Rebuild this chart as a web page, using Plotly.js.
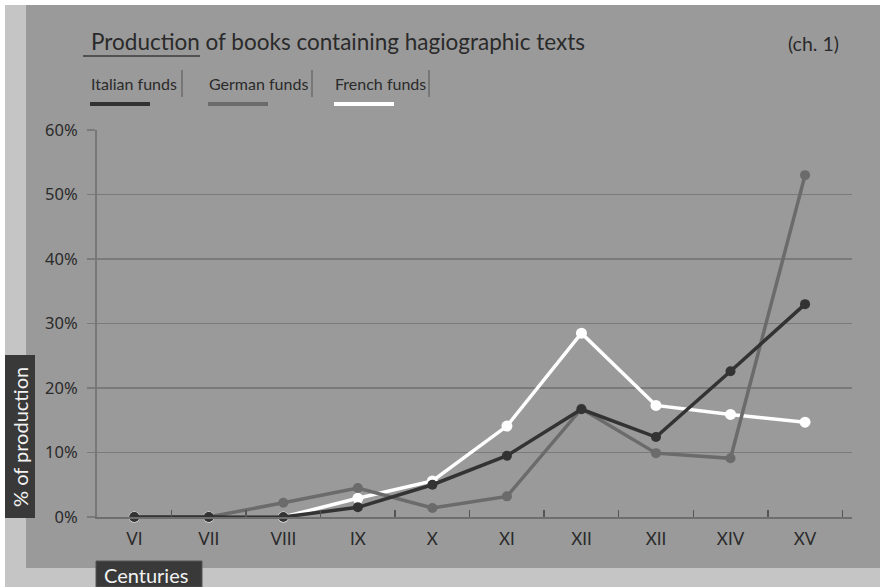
<!DOCTYPE html>
<html>
<head>
<meta charset="utf-8">
<script src="https://cdn.plot.ly/plotly-3.0.1.min.js"></script>
<style>
  html, body { margin: 0; padding: 0; background: #ffffff; }
  #chart { width: 880px; height: 587px; }
</style>
</head>
<body>
<div id="chart"></div>
<script>
// Centuries on the horizontal axis (the eighth label is printed "XII")
const centuries = ['VI', 'VII', 'VIII', 'IX', 'X', 'XI', 'XII', 'XII', 'XIV', 'XV'];
const centuryIndex = [0, 1, 2, 3, 4, 5, 6, 7, 8, 9];

// Share of production (%) of books with hagiographic texts, per fund
const italianFunds = [0, 0, 0, 1.5, 5.0, 9.5, 16.7, 12.4, 22.6, 33.0];
const germanFunds  = [0, 0, 2.2, 4.5, 1.4, 3.2, 16.8, 9.9, 9.1, 53.0];
const frenchFunds  = [0, 0, 0, 2.9, 5.6, 14.1, 28.5, 17.3, 15.9, 14.7];

const seriesNames = ['Italian funds', 'German funds', 'French funds'];
const seriesColors = ['#333333', '#6b6b6b', '#ffffff'];

const yTicks = [0, 10, 20, 30, 40, 50, 60];
const yTickLabels = ['0%', '10%', '20%', '30%', '40%', '50%', '60%'];
const boundaryTicks = [0.5, 1.5, 2.5, 3.5, 4.5, 5.5, 6.5, 7.5, 8.5, 9.5];

// Page geometry in pixels, used to place frame decorations in paper space
const W = 880, H = 587;
const M = { l: 97, r: 28, t: 130, b: 70 };
const PW = W - M.l - M.r, PH = H - M.t - M.b;
const fx = px => (px - M.l) / PW;
const fy = py => (H - M.b - py) / PH;

const FONT = 'Lato, "Noto Sans", sans-serif';
const NUM_FONT = '"Noto Sans", Lato, sans-serif';
const INK = '#2a2a2a';

function lineTrace(name, values, color, width, size) {
  return {
    type: 'scatter', mode: 'lines+markers', name: name,
    x: centuryIndex, y: values,
    line: { color: color, width: width },
    marker: { color: color, size: size },
    cliponaxis: false, showlegend: false,
    hovertemplate: '%{y}%<extra>' + name + '</extra>'
  };
}

const data = [
  lineTrace(seriesNames[2], frenchFunds, seriesColors[2], 3.5, 11),
  lineTrace(seriesNames[1], germanFunds, seriesColors[1], 3.5, 10),
  lineTrace(seriesNames[0], italianFunds, seriesColors[0], 3.5, 10)
];

// Frame: white margin, light-grey mat, mid-grey panel, dark label boxes
const shapes = [
  { type: 'rect', xref: 'paper', yref: 'paper', layer: 'below',
    x0: fx(5), x1: fx(880), y0: fy(5), y1: fy(587),
    fillcolor: '#c5c5c5', line: { width: 0 } },
  { type: 'rect', xref: 'paper', yref: 'paper', layer: 'below',
    x0: fx(26), x1: fx(880), y0: fy(5), y1: fy(568),
    fillcolor: '#9a9a9a', line: { width: 0 } },
  { type: 'rect', xref: 'paper', yref: 'paper',
    x0: fx(5), x1: fx(35), y0: fy(355), y1: fy(518),
    fillcolor: '#393939', line: { width: 0 } },
  { type: 'rect', xref: 'paper', yref: 'paper',
    x0: fx(96), x1: fx(202), y0: fy(561), y1: fy(587),
    fillcolor: '#393939', line: { color: '#555555', width: 1 } },
  // underline under the first word of the title
  { type: 'line', xref: 'paper', yref: 'paper',
    x0: fx(83), x1: fx(200), y0: fy(56), y1: fy(56),
    line: { color: '#3a3a3a', width: 1.5 } }
];

const annotations = [
  { xref: 'paper', yref: 'paper', x: fx(89), y: fy(42), xanchor: 'left', yanchor: 'middle',
    text: 'Production of books containing hagiographic texts', showarrow: false,
    font: { family: FONT, size: 22.5, color: INK } },
  { xref: 'paper', yref: 'paper', x: fx(841), y: fy(43), xanchor: 'right', yanchor: 'middle',
    text: '(ch. 1)', showarrow: false,
    font: { family: FONT, size: 19.5, color: INK } },
  { xref: 'paper', yref: 'paper', x: fx(20), y: fy(437), xanchor: 'center', yanchor: 'middle',
    text: '% of production', textangle: -90, showarrow: false,
    font: { family: FONT, size: 20, color: '#f2f2f2' } },
  { xref: 'paper', yref: 'paper', x: fx(146), y: fy(575), xanchor: 'center', yanchor: 'middle',
    text: 'Centuries', showarrow: false,
    font: { family: FONT, size: 20, color: '#f2f2f2' } }
];

// Key: name, thin divider after it, colour bar underneath
const keyLeft = [89, 207, 333];
const keyRight = [182, 312, 429];
seriesNames.forEach((name, i) => {
  annotations.push({
    xref: 'paper', yref: 'paper', x: fx(keyLeft[i]), y: fy(84), xanchor: 'left', yanchor: 'middle',
    text: name, showarrow: false, font: { family: FONT, size: 16, color: INK }
  });
  shapes.push({
    type: 'line', xref: 'paper', yref: 'paper',
    x0: fx(keyRight[i]), x1: fx(keyRight[i]), y0: fy(70), y1: fy(97),
    line: { color: '#555555', width: 1 }
  });
  shapes.push({
    type: 'line', xref: 'paper', yref: 'paper',
    x0: fx(keyLeft[i] + 1), x1: fx(keyLeft[i] + 61), y0: fy(104), y1: fy(104),
    line: { color: seriesColors[i], width: 4 }
  });
});

const layout = {
  width: W, height: H,
  margin: M,
  paper_bgcolor: '#ffffff',
  plot_bgcolor: 'rgba(0,0,0,0)',
  font: { family: FONT, color: INK },
  showlegend: false,
  xaxis: {
    range: [-0.5, 9.63], fixedrange: true,
    tickmode: 'array', tickvals: centuryIndex, ticktext: centuries,
    ticks: '', showgrid: false, zeroline: false,
    showline: true, linecolor: '#6e6e6e', linewidth: 2,
    tickfont: { family: FONT, size: 17, color: INK },
    ticklabelstandoff: 6,
    minor: { tickmode: 'array', tickvals: boundaryTicks, ticks: 'inside',
             ticklen: 7, tickwidth: 1.5, tickcolor: '#555555', showgrid: false }
  },
  yaxis: {
    range: [0, 60], fixedrange: true,
    tickmode: 'array', tickvals: yTicks, ticktext: yTickLabels,
    showgrid: true, gridcolor: '#7a7a7a', gridwidth: 1.5, zeroline: false,
    showline: true, linecolor: '#777777', linewidth: 2,
    ticks: 'outside', ticklen: 8, tickwidth: 1.5, tickcolor: '#7a7a7a',
    tickfont: { family: NUM_FONT, size: 16.5, color: INK },
    ticklabelstandoff: 6
  },
  shapes: shapes,
  annotations: annotations
};

Plotly.newPlot('chart', data, layout, { displayModeBar: false, staticPlot: true });
</script>
</body>
</html>
